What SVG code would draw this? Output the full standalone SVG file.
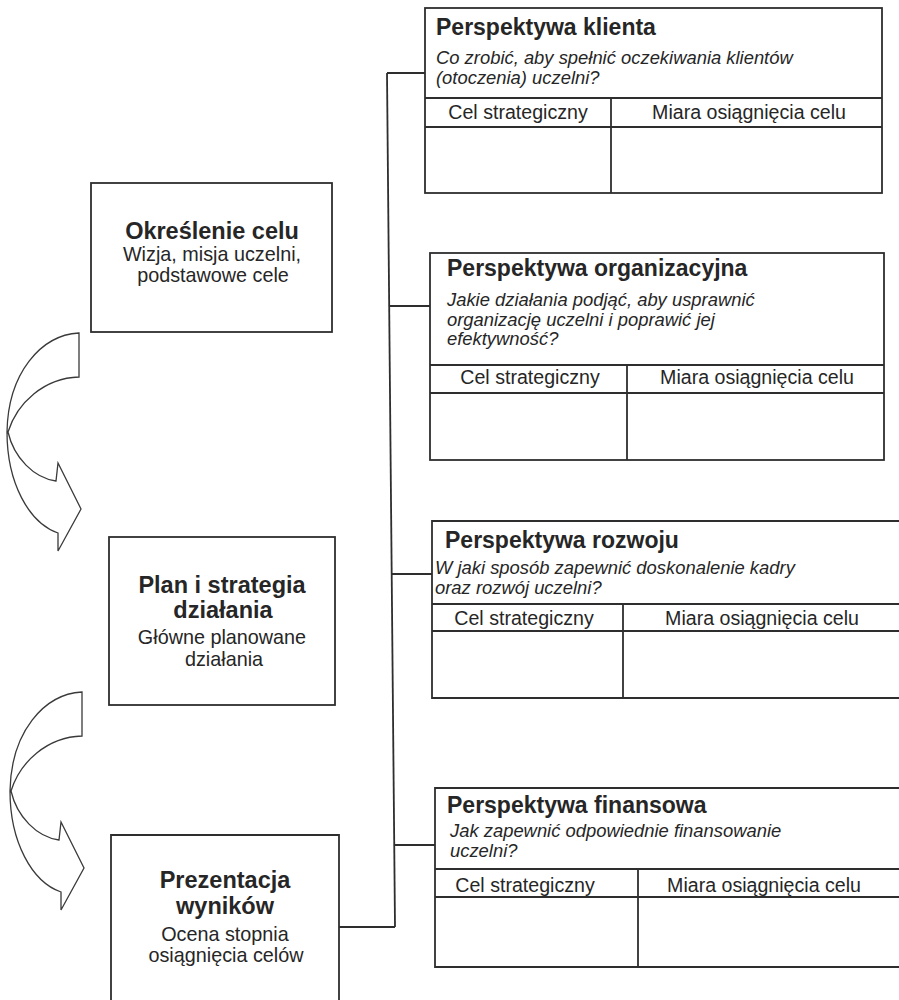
<svg xmlns="http://www.w3.org/2000/svg" width="899" height="1000" viewBox="0 0 899 1000">
<style>
  .box { fill: #ffffff; stroke: #2e2e2e; stroke-width: 1.8; }
  .ln { fill: none; stroke: #2e2e2e; stroke-width: 1.8; }
  .conn { fill: none; stroke: #2e2e2e; stroke-width: 1.8; }
  .arrow { fill: #ffffff; stroke: #3a3a3a; stroke-width: 1.3; stroke-linejoin: miter; }
  text { font-family: "Liberation Sans", Arial, sans-serif; fill: #262626; }
  .t { font-weight: bold; font-size: 23px; }
  .q { font-style: italic; font-size: 18.4px; }
  .h { font-size: 19.6px; text-anchor: middle; }
  .lt { font-weight: bold; font-size: 23.5px; text-anchor: middle; }
  .ls { font-size: 19.8px; text-anchor: middle; }
</style>
<defs>
  <path id="carrow" d="M0 0 C-38 2 -71 40 -72 99 C-72 150 -50 190 -21 200 L-21 218 L2 176 L-21 130 L-23 148 C-45 145 -65 125 -71 99 C-62 70 -35 45 0 44 Z"/>
</defs>

<g id="connectors">
  <path class="conn" d="M387 73 L395 927"/>
  <path class="conn" d="M387 73 H425"/>
  <path class="conn" d="M389 306 H430"/>
  <path class="conn" d="M392 574 H432"/>
  <path class="conn" d="M394 845 H435"/>
  <path class="conn" d="M339 927 H395"/>
</g>

<g id="arrows">
  <use href="#carrow" class="arrow" transform="translate(79,333)"/>
  <use href="#carrow" class="arrow" transform="translate(82,692)"/>
</g>

<g id="node-okreslenie">
  <rect class="box" x="91" y="183" width="241" height="149"/>
  <text class="lt" x="212" y="239">Określenie celu</text>
  <text class="ls" x="212" y="261">Wizja, misja uczelni,</text>
  <text class="ls" x="213" y="282">podstawowe cele</text>
</g>

<g id="node-plan">
  <rect class="box" x="109" y="537" width="226" height="168"/>
  <text class="lt" x="222" y="593">Plan i strategia</text>
  <text class="lt" x="223" y="618">działania</text>
  <text class="ls" x="222" y="644">Główne planowane</text>
  <text class="ls" x="224" y="666">działania</text>
</g>

<g id="node-prezentacja">
  <path class="box" d="M111 1001 V835 H339 V1001"/>
  <text class="lt" x="225" y="888">Prezentacja</text>
  <text class="lt" x="225" y="914">wyników</text>
  <text class="ls" x="225" y="941">Ocena stopnia</text>
  <text class="ls" x="226" y="962">osiągnięcia celów</text>
</g>

<g id="node-klienta">
  <rect class="box" x="425" y="8" width="457" height="185"/>
  <path class="ln" d="M425 98 H882 M425 127 H882 M611 98 V193"/>
  <text class="t" x="436" y="35">Perspektywa klienta</text>
  <text class="q" x="436" y="64">Co zrobić, aby spełnić oczekiwania klientów</text>
  <text class="q" x="436" y="84">(otoczenia) uczelni?</text>
  <text class="h" x="518" y="119">Cel strategiczny</text>
  <text class="h" x="749" y="119">Miara osiągnięcia celu</text>
</g>

<g id="node-organizacyjna">
  <rect class="box" x="430" y="253" width="454" height="207"/>
  <path class="ln" d="M430 365 H884 M430 393 H884 M627 365 V460"/>
  <text class="t" x="447" y="276">Perspektywa organizacyjna</text>
  <text class="q" x="447" y="306">Jakie działania podjąć, aby usprawnić</text>
  <text class="q" x="447" y="326">organizację uczelni i poprawić jej</text>
  <text class="q" x="447" y="345">efektywność?</text>
  <text class="h" x="530" y="384">Cel strategiczny</text>
  <text class="h" x="757" y="384">Miara osiągnięcia celu</text>
</g>

<g id="node-rozwoju">
  <path class="box" d="M899 521 H432 V698 H899"/>
  <path class="ln" d="M432 604 H899 M432 631 H899 M623 604 V698"/>
  <text class="t" x="445" y="548">Perspektywa rozwoju</text>
  <text class="q" x="435" y="574">W jaki sposób zapewnić doskonalenie kadry</text>
  <text class="q" x="435" y="594">oraz rozwój uczelni?</text>
  <text class="h" x="524" y="625">Cel strategiczny</text>
  <text class="h" x="762" y="625">Miara osiągnięcia celu</text>
</g>

<g id="node-finansowa">
  <path class="box" d="M899 788 H435 V967 H899"/>
  <path class="ln" d="M435 869 H899 M435 897 H899 M638 869 V967"/>
  <text class="t" x="447" y="813">Perspektywa finansowa</text>
  <text class="q" x="450" y="837">Jak zapewnić odpowiednie finansowanie</text>
  <text class="q" x="450" y="857">uczelni?</text>
  <text class="h" x="525" y="892">Cel strategiczny</text>
  <text class="h" x="764" y="892">Miara osiągnięcia celu</text>
</g>
</svg>
